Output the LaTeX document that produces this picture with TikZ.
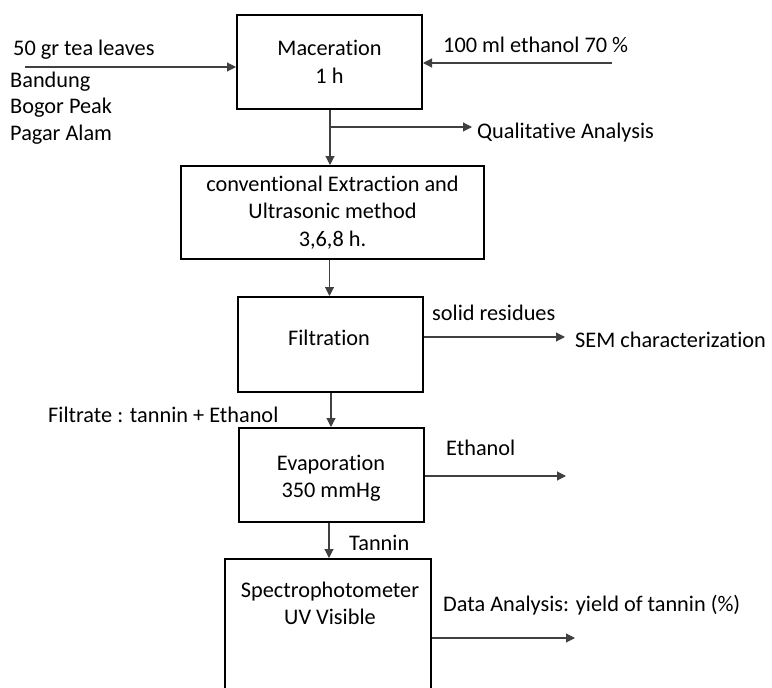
\documentclass[tikz,border=0pt]{standalone}
\usepackage{fontspec}
\setmainfont[Ligatures={NoCommon,NoRequired,NoContextual}]{Carlito}
\usetikzlibrary{arrows.meta}
\begin{document}
\begin{tikzpicture}[x=1pt,y=-1pt,
  font=\fontsize{22.3}{27.5}\selectfont,
  box/.style={draw=black,line width=2pt,rectangle,align=center,inner sep=0pt},
  conn/.style={draw=black!75,line width=1.1pt,-{Triangle[length=9pt,width=9pt]}},
  lbl/.style={anchor=west,inner sep=0pt}]
\useasboundingbox (0,0) rectangle (772,688);
\clip (0,0) rectangle (772,688);
% boxes
\node[box,minimum width=185pt,minimum height=94pt] (mac) at (329.5,62) {Maceration\\1 h};
\node[box,minimum width=303pt,minimum height=93pt] (conv) at (332.5,212.5) {conventional Extraction and\\Ultrasonic method\\3,6,8 h.};
\node[box,minimum width=185pt,minimum height=95pt] (filt) at (330.5,344.5) {};
\node[inner sep=0pt] (filttext) at (329,338) {Filtration};
\node[box,minimum width=185pt,minimum height=94pt] (evap) at (331.5,475) {};
\node[inner sep=0pt,align=center] (evaptext) at (331,478) {Evaporation\\350 mmHg};
\node[box,minimum width=206pt,minimum height=170pt] (spec) at (328,644) {};
\node[inner sep=0pt,align=center] (spectext) at (330,603.5) {Spectrophotometer\\UV Visible};
% input labels
\node[lbl] (tea) at (13,50) {50 gr tea leaves};
\node[lbl] (bandung) at (10,82) {Bandung};
\node[lbl] (bogor) at (10,108) {Bogor Peak};
\node[lbl] (pagar) at (10,135) {Pagar Alam};
\node[lbl] (etoh) at (443,45) {100 ml ethanol 70 \%};
\coordinate (teastart) at (25,67);
\coordinate (etohstart) at (612,63);
\draw[conn] (teastart) -- (teastart -| mac.west);
\draw[conn] (etohstart) -- (etohstart -| mac.east);
% main flow
\coordinate (branch) at (330,127);
\draw[conn] (330,0 |- mac.south) -- (330,0 |- conv.north);
\coordinate (qaend) at (472,127);
\draw[conn] (branch) -- (qaend);
\node[lbl] (qa) at (477,133) {Qualitative Analysis};
\draw[conn] (329.5,0 |- conv.south) -- (329.5,0 |- filt.north);
% filtration side
\coordinate (semend) at (565,337);
\draw[conn] (semend -| filt.east) -- (semend);
\node[lbl] (sem) at (575,340) {SEM characterization};
\node[lbl] (solid) at (432,313) {solid residues};
\draw[conn] (331,0 |- filt.south) -- (331,0 |- evap.north);
\node[lbl] (filtrate) at (48,415) {Filtrate : tannin + Ethanol};
% evaporation side
\coordinate (ethend) at (566,476);
\draw[conn] (ethend -| evap.east) -- (ethend);
\node[lbl] (eth) at (446,448) {Ethanol};
\draw[conn] (329,0 |- evap.south) -- (329,0 |- spec.north);
\node[lbl] (tannin) at (349,543) {Tannin};
% spectro side
\coordinate (dataend) at (575,638);
\draw[conn] (dataend -| spec.east) -- (dataend);
\node[lbl] (data) at (443,605) {Data Analysis: yield of tannin (\%)};
\end{tikzpicture}
\end{document}
